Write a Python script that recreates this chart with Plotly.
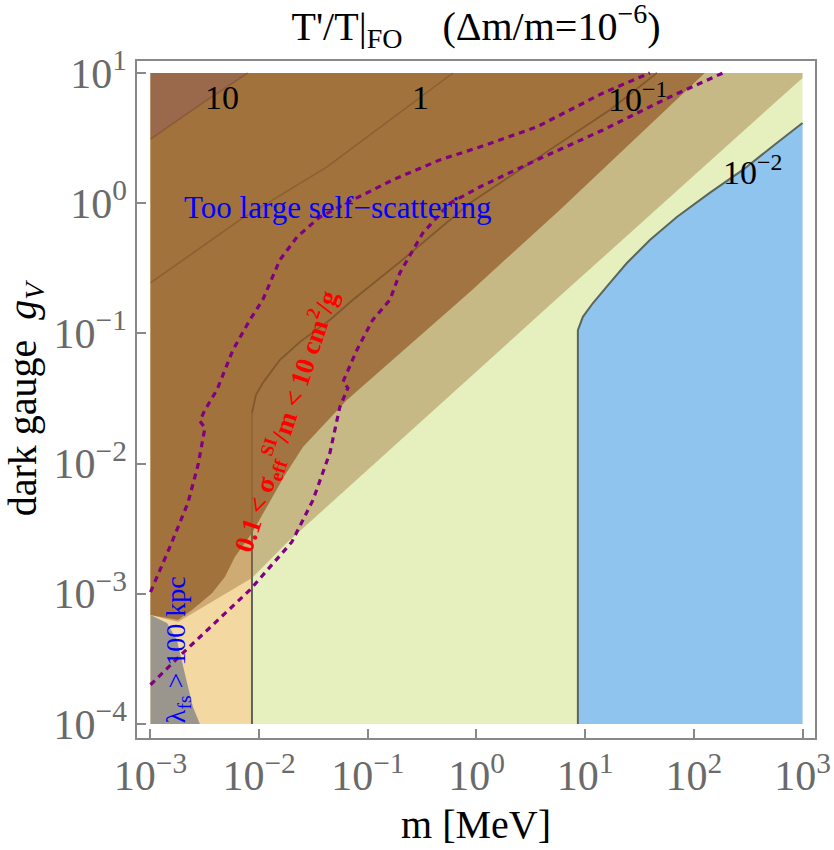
import math
import plotly.graph_objects as go

# ---------------- data ----------------
x_ticks = [1e-3, 1e-2, 1e-1, 1e0, 1e1, 1e2, 1e3]
x_ticktext = ["10<sup>−3</sup>", "10<sup>−2</sup>", "10<sup>−1</sup>", "10<sup>0</sup>",
              "10<sup>1</sup>", "10<sup>2</sup>", "10<sup>3</sup>"]
y_ticks = [1e-4, 1e-3, 1e-2, 1e-1, 1e0, 1e1]
y_ticktext = ["10<sup>−4</sup>", "10<sup>−3</sup>", "10<sup>−2</sup>", "10<sup>−1</sup>",
              "10<sup>0</sup>", "10<sup>1</sup>"]

m_min, m_max = 1e-3, 1e3
g_min, g_max = 1e-4, 10.0

# contour T'/T = 10^-2  (boundary of the blue region)
c002_m = [8.57, 8.57, 9.53, 11.8, 16.9, 24.2, 39.4, 69.8, 140, 282, 580, 1000]
c002_g = [1e-4, 0.106, 0.134, 0.171, 0.244, 0.347, 0.521, 0.783, 1.20, 1.80, 2.90, 4.13]

# contour T'/T = 10^-1
c01_m = [8.59e-3, 8.59e-3, 9.35e-3, 1.08e-2, 1.55e-2, 2.37e-2, 4.48e-2, 7.29e-2, 0.197, 0.869, 5.84, 16.9, 45.7]
c01_g = [1e-4, 0.0245, 0.0337, 0.0416, 0.0625, 0.0859, 0.127, 0.181, 0.353, 1.00, 2.90, 5.20, 10.0]

# contour T'/T = 1
c1_m = [1e-3, 6.66e-3, 4.21e-2, 0.607]
c1_g = [0.244, 0.743, 1.90, 10.0]

# contour T'/T = 10
c10_m = [1e-3, 2.85e-3, 7.89e-3]
c10_g = [3.10, 5.68, 10.0]

# lower edge of the tan band
tan_m = [1e-3, 1000, 1000, 4.44, 1.80e-2, 8.59e-3, 3.92e-3, 1.79e-3, 1e-3]
tan_g = [10.0, 10.0, 9.16, 0.157, 2.46e-3, 1.32e-3, 8.95e-4, 6.07e-4, 6.88e-4]

# "too large self-scattering" region (brown)
brown_m = [1e-3, 126, 5.84, 0.869, 6.42e-2, 2.53e-2, 1.73e-2, 1.13e-2, 8.59e-3,
           5.99e-3, 4.85e-3, 3.68e-3, 2.41e-3, 1.79e-3, 1e-3]
brown_g = [10.0, 10.0, 0.887, 0.208, 0.0308, 0.0134, 8.17e-3, 4.40e-3, 2.93e-3,
           1.92e-3, 1.35e-3, 1.01e-3, 7.51e-4, 6.29e-4, 6.88e-4]

# free-streaming region (gray)
fs_m = [1e-3, 1.42e-3, 1.75e-3, 1.95e-3, 2.17e-3, 2.46e-3, 2.85e-3, 1e-3]
fs_g = [6.88e-4, 5.97e-4, 4.42e-4, 3.10e-4, 2.07e-4, 1.35e-4, 1e-4, 1e-4]

# 0.1 < sigma/m < 10 cm^2/g band edges (purple dotted)
sig_hi_m = [1e-3, 1.51e-3, 2.21e-3, 2.74e-3, 3.17e-3, 2.85e-3, 3.17e-3, 4.09e-3, 5.74e-3,
            8.23e-3, 1.08e-2, 1.55e-2, 2.23e-2, 3.62e-2, 7.29e-2, 0.170, 0.460, 1.07, 3.59, 14.6, 39.4]
sig_hi_g = [1.03e-3, 2.29e-3, 4.98e-3, 9.75e-3, 0.0188, 0.0212, 0.0258, 0.0368, 0.0746,
            0.127, 0.181, 0.366, 0.550, 0.783, 1.06, 1.51, 2.15, 2.70, 3.85, 7.02, 10.0]
sig_lo_m = [1e-3, 1.99e-3, 8.23e-3, 2.00e-2, 3.13e-2, 4.48e-2, 5.53e-2, 6.56e-2, 5.90e-2,
            7.94e-2, 0.111, 0.160, 0.197, 0.321, 0.569, 1.07, 3.59, 14.6, 60.1, 185]
sig_lo_g = [2.00e-4, 3.51e-4, 1.07e-3, 2.50e-3, 5.25e-3, 0.0121, 0.0272, 0.0381, 0.0424,
            0.0746, 0.127, 0.181, 0.291, 0.591, 1.00, 1.33, 2.15, 3.65, 6.54, 10.0]

# ---------------- styles ----------------
C_YELLOW = "#e6f0bf"
C_PEACH = "#f3d9a1"
C_BLUE = "#8ec4ee"
C_TAN = "rgba(153,102,51,0.40)"
C_BROWN = "rgba(153,102,51,0.83)"
C_CORNER = "rgba(130,80,120,0.25)"
C_GRAY = "#9b968d"
C_CLINE = "#5d655a"
C_FAINT = "rgba(95,60,30,0.35)"
C_PURPLE = "#800080"
SERIF = "Liberation Serif"

fig = go.Figure()


def poly(xs, ys, color):
    fig.add_trace(go.Scatter(x=xs, y=ys, mode="lines", fill="toself", fillcolor=color,
                             line=dict(width=0, color=color), hoverinfo="skip", showlegend=False))


def line(xs, ys, color, width, dash="solid"):
    fig.add_trace(go.Scatter(x=xs, y=ys, mode="lines", line=dict(color=color, width=width, dash=dash),
                             hoverinfo="skip", showlegend=False))


# base region 10^-2 < T'/T < 10^-1
poly([m_min, m_max, m_max, m_min], [g_min, g_min, g_max, g_max], C_YELLOW)
# T'/T > 10^-1
poly(c01_m + [m_min, m_min], c01_g + [g_max, g_min], C_PEACH)
# T'/T < 10^-2
poly(c002_m + [m_max], c002_g + [g_min], C_BLUE)
# contour lines
line(c01_m, c01_g, C_CLINE, 2)
line(c002_m, c002_g, C_CLINE, 2)
# overlays
poly(tan_m, tan_g, C_TAN)
poly(brown_m, brown_g, C_BROWN)
poly(c10_m + [m_min], c10_g + [g_max], C_CORNER)
# faint contour lines inside the brown region
line(c10_m, c10_g, C_FAINT, 1.5)
line(c1_m, c1_g, C_FAINT, 1.5)
line(c01_m[1:], c01_g[1:], C_FAINT, 1.5)
# free streaming
poly(fs_m, fs_g, C_GRAY)
# purple dotted band edges
line(sig_hi_m, sig_hi_g, C_PURPLE, 3.2, "6px,5px")
line(sig_lo_m, sig_lo_g, C_PURPLE, 3.2, "6px,5px")

L = math.log10
annos = [
    dict(x=L(4.55e-3), y=L(6.43), text="10", font=dict(size=34, color="black")),
    dict(x=L(0.308), y=L(6.43), text="1", font=dict(size=34, color="black")),
    dict(x=L(30.5), y=L(6.54), text="10<sup>−1</sup>", font=dict(size=34, color="black")),
    dict(x=L(349), y=L(1.80), text="10<sup>−2</sup>", font=dict(size=34, color="black")),
    dict(x=L(1.95e-3), y=L(0.92), text="Too large self−scattering", xanchor="left",
         font=dict(size=31, color="#0000ff")),
    dict(x=L(1.80e-3), y=L(3.7e-4), text="λ<sub>fs</sub> &gt; 100 kpc", textangle=-90,
         font=dict(size=28, color="#0000ff")),
    dict(x=L(0.0177), y=L(0.0212),
         text="<b>0.1 &lt; σ<sub>eff</sub><sup>SI</sup>/m &lt; 10 cm<sup>2</sup>/g</b>",
         textangle=-71.5, font=dict(size=27, color="#ff0000")),
]
for a in annos:
    a.update(xref="x", yref="y", showarrow=False)
    a["font"]["family"] = SERIF
    a.setdefault("xanchor", "center")
    a.setdefault("yanchor", "middle")

fig.update_layout(
    width=834, height=850,
    margin=dict(l=137, r=19, t=61, b=112),
    paper_bgcolor="white", plot_bgcolor="white",
    font=dict(family=SERIF),
    annotations=annos,
    title=dict(text="T'/T|<sub>FO</sub>\u00a0\u00a0\u00a0\u00a0(Δm/m=10<sup>−6</sup>)",
               x=0.5, xref="paper", y=0.970, yref="container", xanchor="center", yanchor="middle",
               font=dict(size=40, color="black", family=SERIF)),
    xaxis=dict(type="log", range=[-3.124, 3.115], tickvals=x_ticks, ticktext=x_ticktext,
               ticks="inside", ticklen=9, tickcolor="#888", tickwidth=1.5,
               showline=True, linecolor="#888", linewidth=1.5, mirror=True,
               showgrid=False, zeroline=False, automargin=False,
               tickfont=dict(size=42, color="#6a6a6a", family=SERIF),
               title=dict(text="m [MeV]", font=dict(size=40, color="black", family=SERIF), standoff=12)),
    yaxis=dict(type="log", range=[-4.108, 1.092], tickvals=y_ticks, ticktext=y_ticktext,
               ticks="inside", ticklen=9, tickcolor="#888", tickwidth=1.5,
               showline=True, linecolor="#888", linewidth=1.5, mirror=True,
               showgrid=False, zeroline=False, automargin=False,
               tickfont=dict(size=42, color="#6a6a6a", family=SERIF),
               title=dict(text="dark gauge  <i>g</i><sub><i>V</i></sub>",
                          font=dict(size=40, color="black", family=SERIF), standoff=10)),
)

fig.write_html("out.html")
